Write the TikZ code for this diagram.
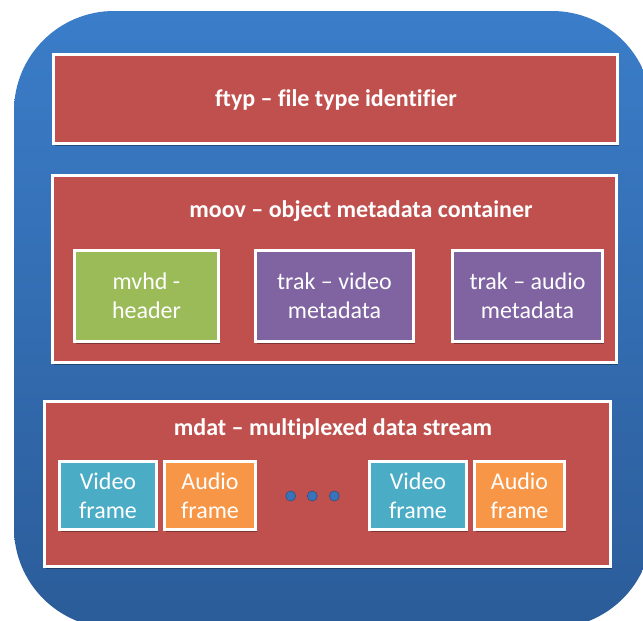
\documentclass[tikz,border=0pt]{standalone}
\usepackage{fontspec}
\setmainfont{Carlito}[Ligatures=NoCommon]
\usetikzlibrary{shadows}
\definecolor{bgtop}{HTML}{3B7DC9}
\definecolor{bgbot}{HTML}{2B5C99}
\definecolor{boxred}{HTML}{C0504D}
\definecolor{boxgreen}{HTML}{9BBB59}
\definecolor{boxpurple}{HTML}{8064A2}
\definecolor{boxaqua}{HTML}{4BACC6}
\definecolor{boxorange}{HTML}{F79646}
\definecolor{dotblue}{HTML}{3A73BA}
\begin{document}
\begin{tikzpicture}[x=1pt,y=-1pt,
  panel/.style={draw=white, line width=3pt, fill=boxred,
    drop shadow={shadow xshift=1.5pt, shadow yshift=-2pt, opacity=0.35, fill=black}},
  cell/.style={draw=white, line width=3pt,
    drop shadow={shadow xshift=1.5pt, shadow yshift=-2pt, opacity=0.35, fill=black}},
  title/.style={text=white, font=\fontsize{24}{29}\selectfont\bfseries},
  label/.style={text=white, align=center, font=\fontsize{24}{29}\selectfont},
  dot/.style={circle, inner sep=0pt, minimum size=10pt, fill=dotblue, draw=dotblue!70!black, line width=0.6pt}]
\useasboundingbox (0,0) rectangle (643,621);
\begin{scope}
  \clip (0,0) rectangle (643,621);
  % rounded container with vertical gradient
  \shade[top color=bgtop, bottom color=bgbot, rounded corners=100pt]
    (14,11) rectangle (652,628);
\end{scope}

% ftyp box
\draw[panel] (53.5,54.5) rectangle (617.5,143.5);
\node[title] (ftyp) at (336,100) {ftyp – file type identifier};

% moov box
\draw[panel] (52.5,175.5) rectangle (616.5,362.5);
\node[title] (moov) at (361,211) {moov – object metadata container};
\draw[cell, fill=boxgreen] (74.5,250.5) rectangle (218.5,341.5);
\node[label] (mvhd) at (146.5,296) {mvhd -\\header};
\draw[cell, fill=boxpurple] (255.5,250.5) rectangle (413.5,341.5);
\node[label] (trakv) at (334.5,296) {trak – video\\metadata};
\draw[cell, fill=boxpurple] (452.5,250.5) rectangle (602.5,341.5);
\node[label] (traka) at (527.5,296) {trak – audio\\metadata};

% mdat box
\draw[panel] (44.5,401.5) rectangle (610.5,566.5);
\node[title] (mdat) at (333,429) {mdat – multiplexed data stream};
\draw[cell, fill=boxaqua] (59.5,461.5) rectangle (156.5,529.5);
\node[label] (v1) at (108,496) {Video\\frame};
\draw[cell, fill=boxorange] (164.5,461.5) rectangle (255.5,529.5);
\node[label] (a1) at (210,496) {Audio\\frame};
\node[dot] (d1) at (290.7,496) {};
\node[dot] (d2) at (312.3,496) {};
\node[dot] (d3) at (334.3,496) {};
\draw[cell, fill=boxaqua] (369.5,461.5) rectangle (466.5,529.5);
\node[label] (v2) at (418,496) {Video\\frame};
\draw[cell, fill=boxorange] (474.5,461.5) rectangle (564.5,529.5);
\node[label] (a2) at (519.5,496) {Audio\\frame};
\end{tikzpicture}
\end{document}
